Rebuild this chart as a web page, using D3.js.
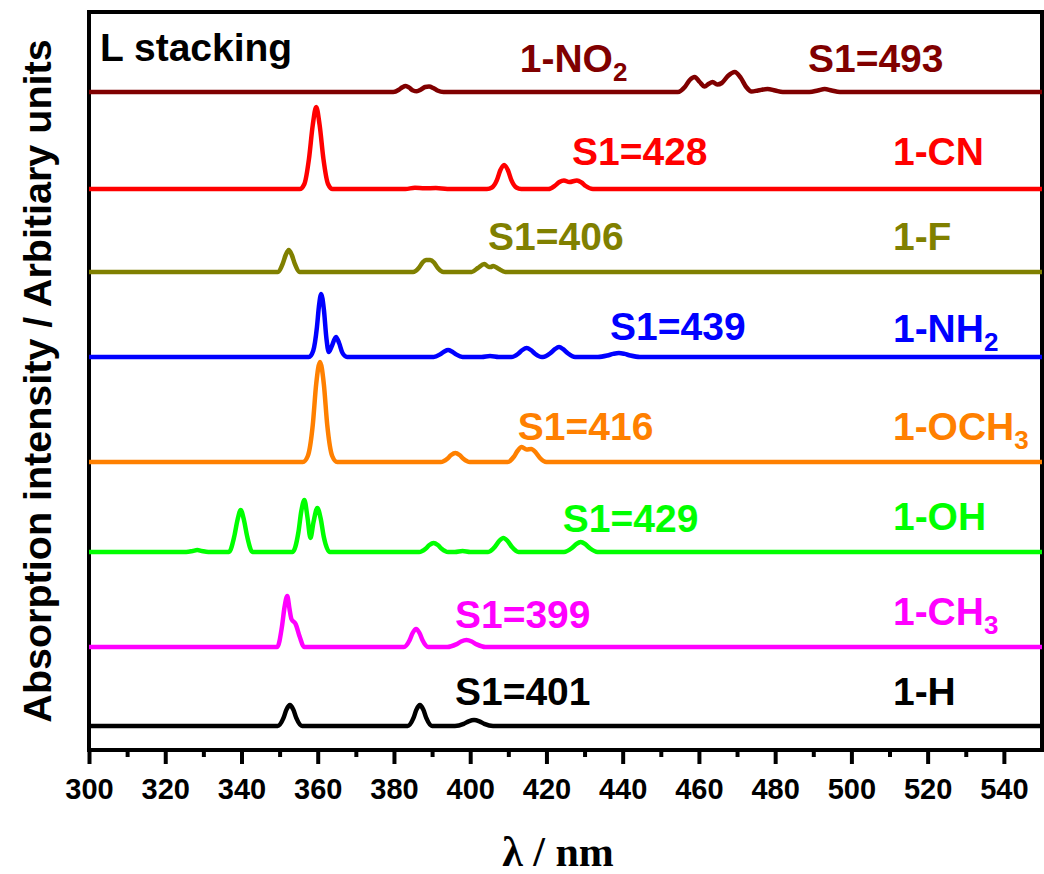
<!DOCTYPE html>
<html>
<head>
<meta charset="utf-8">
<script src="https://cdn.jsdelivr.net/npm/d3@7/dist/d3.min.js"></script>
<style>
  body { margin: 0; background: #fff; }
  svg { display: block; }
</style>
</head>
<body>
<svg id="chart" width="1044" height="874"></svg>
<script>
// Substituted molecules, bottom to top
const molecules = ["1-H", "1-CH3", "1-OH", "1-OCH3", "1-NH2", "1-F", "1-CN", "1-NO2"];
// First excited state wavelength (nm)
const s1Nm = [401, 399, 429, 416, 439, 406, 428, 493];
// Vertical stacking offset of each spectrum (arb. units)
const stackOffset = [24, 103, 198, 288, 393, 478, 561, 658];
const lineColors = ["#000000", "#ff00ff", "#00ff00", "#ff8000", "#0000ff", "#808000", "#ff0000", "#800000"];
const xTicks = [300, 320, 340, 360, 380, 400, 420, 440, 460, 480, 500, 520, 540];
const xMinorTicks = [310, 330, 350, 370, 390, 410, 430, 450, 470, 490, 510, 530];

// Spectra sampled as [wavelength nm, intensity]
const spec_H = [[300,0],[349.5,0],[351.0,7.8],[351.8,16.4],[352.7,21],[353.6,16.4],[354.4,7.8],[355.9,0],
  [383.6,0],[385.1,7.8],[385.9,16.4],[386.8,21],[387.7,16.4],[388.5,7.8],[390.0,0],
  [396.0,0],[398.3,2.2],[399.6,4.7],[401,6],[402.4,4.7],[403.7,2.2],[406.0,0],[550,0]];
const spec_CH3 = [[300,0],[349.4,0],[350.6,20],[351.3,40],[352.0,51],[352.6,38],[353.1,28],[354.2,23],[355.3,10],[356.4,0],
  [382.6,0],[384.1,6.7],[384.9,14],[385.8,18],[386.7,14],[387.5,6.7],[389.0,0],
  [394.0,0],[396.3,2.6],[397.6,5.5],[399,7],[400.4,5.5],[401.7,2.6],[404.0,0],[550,0]];
const spec_OH = [[300,0],[325.5,0],[327.2,1],[328.4,2],[329.6,1],[331.3,0],
  [336.7,0],[338.1,15.5],[339.0,32.8],[339.8,42],[340.6,32.8],[341.5,15.5],[342.9,0],
  [353.4,0],[354.9,19],[355.7,41],[356.5,52],[357.3,35],[358.1,14],[358.9,30],[359.9,44],[360.8,33],[361.6,15],[363.2,0],
  [386.6,0],[388.3,3.3],[389.3,7],[390.4,9],[391.5,7],[392.5,3.3],[394.2,0],
  [396,0],[398,1],[400,0],
  [404.7,0],[406.5,5.2],[407.6,11],[408.7,14],[409.8,11],[410.9,5.2],[412.7,0],
  [424.6,0],[426.6,3.7],[427.8,7.8],[429,10],[430.2,7.8],[431.4,3.7],[433.4,0],[550,0]];
const spec_OCH3 = [[300,0],[356.1,0],[357.4,6],[358.7,37],[359.6,78],[360.6,100],[361.6,78],[362.5,37],[363.8,6],[365.1,0],
  [392.3,0],[394.0,3.3],[395.0,7],[396.1,9],[397.2,7],[398.2,3.3],[399.9,0],
  [409.8,0],[411.4,5],[412.4,11],[413.5,15],[414.8,12.5],[416,13],[417.2,9.5],[418.3,4],[420.0,0],[550,0]];
const spec_NH2 = [[300,0],[357.7,0],[358.8,6],[359.8,30],[360.3,50],[360.9,63],[361.6,48],[362.3,18],[362.9,5],[363.6,10],[364.8,20],[365.6,14],[366.5,4],[367.7,0],
  [390.4,0],[392.1,2.6],[393.2,5.5],[394.2,7],[395.2,5.5],[396.3,2.6],[398.0,0],
  [403,0],[405.2,1],[407.5,0],
  [410.8,0],[412.6,3.3],[413.7,7],[414.8,9],[415.9,7],[417.0,3.3],[418.8,0],
  [419.1,0],[421.0,3.7],[422.2,7.8],[423.3,10],[424.4,7.8],[425.6,3.7],[427.5,0],
  [433.5,0],[436.0,1.5],[437.5,3.1],[439,4],[440.5,3.1],[442.0,1.5],[444.5,0],[550,0]];
const spec_F = [[300,0],[349.5,0],[350.8,8.1],[351.6,17],[352.4,22],[353.2,17],[354.0,8.1],[355.3,0],
  [385.0,0],[386.5,4],[387.5,9.5],[388.4,12],[389.5,12],[390.5,9.5],[391.5,4],[393.0,0],
  [400.4,0],[402.0,4],[403.7,8],[404.9,5],[405.4,5],[406,6],[407.3,3.5],[409.2,0],[550,0]];
const spec_CN = [[300,0],[355.3,0],[356.5,5],[357.7,30],[358.7,64],[359.6,82],[360.5,64],[361.5,30],[362.7,5],[363.9,0],
  [383,0],[385.5,1.2],[388,0.8],[391,0.9],[394,0],
  [404.4,0],[405.7,1.5],[407.0,8.9],[407.9,18.7],[408.9,24],[409.9,18.7],[410.8,8.9],[412.1,1.5],[413.4,0],
  [420.5,0],[422.3,3.5],[423.4,7],[424.6,8.5],[426.0,7],[428,8.5],[429.2,6.5],[430.3,3],[432.2,0],[550,0]];
const spec_NO2 = [[300,0],[379.8,0],[381.3,2.2],[382.2,4.7],[383.1,6],[384.0,4.3],[385.0,1.5],[386.0,0.8],[387.1,2.5],[388.2,5],[389.2,5.5],[390.3,4],[391.4,1.5],[393,0],
  [454.5,0],[456.3,5],[457.6,12],[458.9,15],[460.2,10],[461.5,5.5],[462.5,8],[463.6,10],[464.8,7.5],[466.0,9],[467.6,16],[469.4,20],[471.0,14],[472.4,5],[473.8,0.5],
  [475.5,1.5],[478.0,3],[480.0,1.5],[482,0],[489,0],[491.2,1.5],[493,3],[494.8,1.5],[497,0],[550,0]];
const spectra = [spec_H, spec_CH3, spec_OH, spec_OCH3, spec_NH2, spec_F, spec_CN, spec_NO2];

// Label anchors: [wavelength nm, height above the spectrum's baseline]
const nameLabelAt = [[510.9,21],[510.9,22],[510.9,22],[510.9,22],[510.9,15],[510.9,22],[510.9,24],[413,20]];
const s1LabelAt = [[396,21],[396,19],[424.3,20],[412.5,22],[436.7,17],[404.7,22],[426.7,24],[488.6,20]];

const plot = { left: 89, right: 1042, top: 12, bottom: 750 };

const x = d3.scaleLinear().domain([300, 550]).range([plot.left, plot.right]);
const y = d3.scaleLinear().domain([0, 738]).range([plot.bottom, plot.top]);

const svg = d3.select("#chart");
const sans = "'Liberation Sans', Arial, Helvetica, sans-serif";

// Frame
svg.append("rect")
  .attr("x", plot.left).attr("y", plot.top)
  .attr("width", plot.right - plot.left).attr("height", plot.bottom - plot.top)
  .attr("fill", "none").attr("stroke", "#000").attr("stroke-width", 4);

// Bottom axis: major ticks with labels
const axisMajor = svg.append("g")
  .attr("transform", `translate(0,${plot.bottom})`)
  .call(d3.axisBottom(x).tickValues(xTicks).tickSize(14).tickPadding(14).tickFormat(d3.format("d")));
axisMajor.select(".domain").remove();
axisMajor.selectAll(".tick line").attr("stroke", "#000").attr("stroke-width", 4);
axisMajor.selectAll(".tick text")
  .attr("fill", "#000").style("font-family", sans).style("font-weight", "bold").style("font-size", "29px");

// Minor ticks
const axisMinor = svg.append("g")
  .attr("transform", `translate(0,${plot.bottom})`)
  .call(d3.axisBottom(x).tickValues(xMinorTicks).tickSize(7).tickFormat(""));
axisMinor.select(".domain").remove();
axisMinor.selectAll(".tick line").attr("stroke", "#000").attr("stroke-width", 4);

// Spectra
const line = d3.line()
  .x(d => x(d[0]))
  .curve(d3.curveMonotoneX);

spectra.forEach((spec, i) => {
  svg.append("path")
    .datum(spec)
    .attr("d", line.y(d => y(d[1] + stackOffset[i])))
    .attr("fill", "none")
    .attr("stroke", lineColors[i])
    .attr("stroke-width", 4.5)
    .attr("stroke-linejoin", "round");
});

// Labels
const labelFont = 39;
molecules.forEach((name, i) => {
  const m = name.match(/^(.*?\D)(\d?)$/);
  const t = svg.append("text")
    .attr("x", x(nameLabelAt[i][0]))
    .attr("y", y(stackOffset[i] + nameLabelAt[i][1]))
    .attr("fill", lineColors[i])
    .style("font-family", sans).style("font-weight", "bold").style("font-size", labelFont + "px");
  t.append("tspan").text(m[1]);
  if (m[2]) {
    t.append("tspan").attr("dy", 9).style("font-size", "26px").text(m[2]);
  }
  svg.append("text")
    .attr("x", x(s1LabelAt[i][0]))
    .attr("y", y(stackOffset[i] + s1LabelAt[i][1]))
    .attr("fill", lineColors[i])
    .style("font-family", sans).style("font-weight", "bold").style("font-size", labelFont + "px")
    .text("S1=" + s1Nm[i]);
});

// Panel title
svg.append("text")
  .attr("x", 100).attr("y", 61)
  .style("font-family", sans).style("font-weight", "bold").style("font-size", "39px")
  .text("L stacking");

// Axis titles
svg.append("text")
  .attr("transform", `translate(51,381) rotate(-90)`)
  .attr("text-anchor", "middle")
  .style("font-family", sans).style("font-weight", "bold").style("font-size", "39.5px")
  .text("Absorption intensity / Arbitiary units");

svg.append("text")
  .attr("x", 558).attr("y", 866)
  .attr("text-anchor", "middle")
  .style("font-family", "'Liberation Serif', 'Times New Roman', serif").style("font-weight", "bold").style("font-size", "42px")
  .text("λ / nm");
</script>
</body>
</html>
